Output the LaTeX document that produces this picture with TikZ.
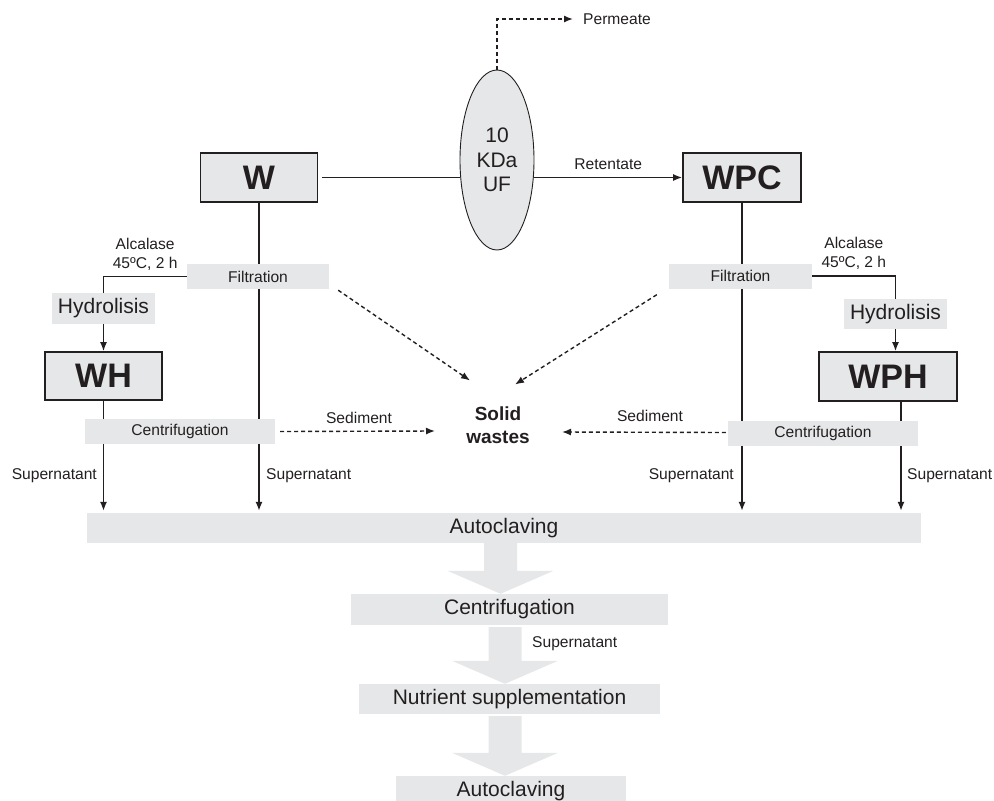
\documentclass[tikz,border=0pt]{standalone}
\usepackage{fontspec}
\setmainfont{Liberation Sans}
\usetikzlibrary{shapes.geometric,calc,arrows.meta,backgrounds}
\definecolor{boxgray}{HTML}{E6E7E8}
\definecolor{ink}{HTML}{231F20}
\begin{document}
\begin{tikzpicture}[x=1pt,y=-1pt,
  every node/.style={text=ink},
  sfont/.style={font=\fontsize{15.6}{19}\selectfont},
  bfont/.style={font=\fontsize{21}{24.5}\selectfont},
  lbl/.style={sfont, inner sep=0pt},
  prodbox/.style={draw=ink, line width=1.8pt, fill=boxgray, inner sep=0pt,
    font=\fontsize{34}{40}\bfseries\selectfont},
  smallstep/.style={fill=boxgray, inner sep=0pt, sfont},
  bigstep/.style={fill=boxgray, inner sep=0pt, bfont},
  flow/.style={draw=ink, line width=1.4pt},
  arr/.style={flow, -{Latex[length=9pt,width=7pt]}},
  dsh/.style={flow, dash pattern=on 4pt off 3pt, -{Latex[length=9pt,width=7pt]}},
  blockarrow/.style={fill=boxgray, draw=none,
    to path={let \p1=(\tikztostart), \p2=(\tikztotarget) in
      (\x1-16.5pt,\y1) -- (\x1+16.5pt,\y1) -- (\x1+16.5pt,\y2+23pt) -- (\x1+53pt,\y2+23pt)
      -- (\x1,\y2) -- (\x1-53pt,\y2+23pt) -- (\x1-16.5pt,\y2+23pt) -- cycle}},
]
\useasboundingbox (0,0) rectangle (994,801);

% product boxes
\node[prodbox, minimum width=117pt, minimum height=49pt] (w) at (259,177.5) {W};
\node[prodbox, minimum width=118pt, minimum height=49pt] (wpc) at (742,177.5) {WPC};
\node[prodbox, minimum width=117pt, minimum height=48pt] (wh) at (103.5,376) {WH};
\node[prodbox, minimum width=138pt, minimum height=49pt] (wph) at (888,376.5) {WPH};

% ultrafiltration
\node[ellipse, draw=ink, line width=0.9pt, fill=boxgray, minimum width=74pt,
  minimum height=180pt, inner sep=0pt, align=center, bfont] (uf) at (497,160) {10\\KDa\\UF};
\node[lbl, anchor=west] (perm) at (583,19) {Permeate};

% small steps
\node[smallstep, minimum width=142pt, minimum height=25pt] (filtL) at (258,276.5) {Filtration};
\node[smallstep, minimum width=143pt, minimum height=25pt] (filtR) at (740.5,276) {Filtration};
\node[bigstep, minimum width=103pt, minimum height=31pt] (hydL) at (103.5,308.5) {Hydrolisis};
\node[bigstep, minimum width=103pt, minimum height=30pt] (hydR) at (895.5,314) {Hydrolisis};
\node[smallstep, minimum width=190pt, minimum height=25pt] (centL) at (180,431.5) {Centrifugation};
\node[smallstep, minimum width=190pt, minimum height=25pt] (centR) at (823,433.5) {Centrifugation};

\node[align=center, inner sep=0pt, font=\fontsize{19}{23}\bfseries\selectfont] (solid) at (498,425.5) {Solid\\wastes};

% bottom steps
\node[bigstep, minimum width=834pt, minimum height=30pt] (auto1) at (504,528) {Autoclaving};
\node[bigstep, minimum width=317pt, minimum height=31pt] (cent2) at (509.5,609.5) {Centrifugation};
\node[bigstep, minimum width=301pt, minimum height=30pt] (nutr) at (509.5,699) {Nutrient supplementation};
\node[bigstep, minimum width=230pt, minimum height=30pt] (auto2) at (511,791) {Autoclaving};

% labels
\node[lbl] (sedL) at (359,418) {Sediment};
\node[lbl] (sedR) at (650,416) {Sediment};
\node[lbl, anchor=east] (sup1) at (97,476) {Supernatant};
\node[lbl, anchor=west] (sup2) at (266,476) {Supernatant};
\node[lbl, anchor=east] (sup3) at (734,476) {Supernatant};
\node[lbl, anchor=west] (sup4) at (907,476) {Supernatant};
\node[lbl, anchor=west] (sup5) at (532,644) {Supernatant};

% block arrows
\path[blockarrow] ($(auto1.south)+(-3.5,0)$) to ($(cent2.north)+(-9,0)$);
\path[blockarrow] ($(cent2.south)+(-4.5,2)$) to ($(nutr.north)+(-4.5,0)$);
\path[blockarrow] ($(nutr.south)+(-4.5,2)$) to ($(auto2.north)+(-4.5,0)$);

\begin{pgfonlayer}{background}
  % UF
  \draw[flow, shorten <=4pt] (w.east) -- (w.east -| uf.west);
  \draw[arr] (uf.east |- wpc.west) -- (wpc.west)
    node[midway, yshift=13pt, lbl] (ret) {Retentate};
  \draw[dsh, shorten >=10pt] (uf.north) |- (perm.west);
  % main vertical lines
  \draw[arr, shorten >=2pt] (w.south) -- (w.south |- auto1.north);
  \draw[arr, shorten >=2pt] (wpc.south) -- (wpc.south |- auto1.north);
  \draw[arr, shorten >=2pt] (wh.south) -- (wh.south |- auto1.north);
  \draw[arr, shorten >=2pt] ($(wph.south)+(13,0)$) -- ($(wph.south |- auto1.north)+(13,0)$);
  % hydrolysis branches
  \draw[flow] (filtL.west) -| (hydL.north)
    node[pos=0.25, yshift=22.5pt, lbl, align=center] (alcL) {Alcalase\\45ºC, 2 h};
  \draw[flow] (filtR.east) -| (hydR.north)
    node[pos=0.25, yshift=22.5pt, lbl, align=center] (alcR) {Alcalase\\45ºC, 2 h};
  \draw[arr] (hydL.south) -- (wh.north);
  \draw[arr] (hydR.south) -- (hydR.south |- wph.north);
  % wastes
  \draw[dsh] ($(filtL.south east)+(9,1)$) -- ($(solid.center)+(-28,-45)$);
  \draw[dsh] ($(filtR.south west)+(-12,6)$) -- ($(solid.center)+(17,-41)$);
  \draw[dsh] ($(centL.east)+(5,0)$) -- ($(solid.center)+(-63,5.5)$);
  \draw[dsh] ($(centR.west)+(-2,-1)$) -- ($(solid.center)+(64,6.5)$);
\end{pgfonlayer}
\end{tikzpicture}
\end{document}
